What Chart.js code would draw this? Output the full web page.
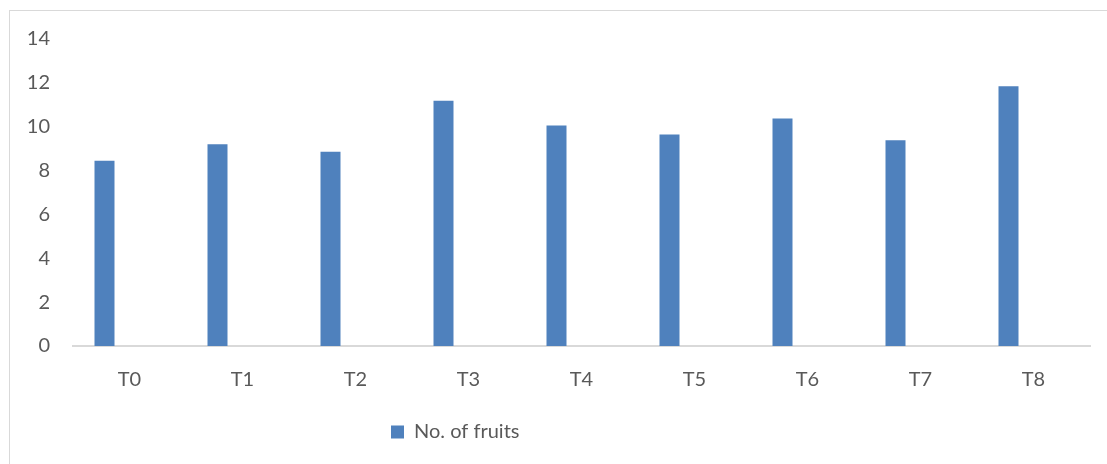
<!DOCTYPE html>
<html>
<head>
<meta charset="utf-8">
<script src="https://cdn.jsdelivr.net/npm/chart.js"></script>
<style>
    html, body { margin: 0; padding: 0; background: #fff; overflow: hidden; }
    #frame {
        position: absolute; left: 9px; top: 10px;
        width: 1200px; height: 600px;
        border: 1px solid #d9d9d9;
    }
    #wrap { position: absolute; left: 0; top: 0; width: 1107px; height: 464px; }
</style>
</head>
<body>
<div id="frame"></div>
<div id="wrap"><canvas id="chart"></canvas></div>
<script>
// Data
const treatments = ['T0', 'T1', 'T2', 'T3', 'T4', 'T5', 'T6', 'T7', 'T8'];
const fruitCounts = [8.45, 9.2, 8.86, 11.18, 10.05, 9.65, 10.38, 9.38, 11.85];
const emptySeries = [null, null, null, null, null, null, null, null, null];
const yTicks = [0, 2, 4, 6, 8, 10, 12, 14];

const textColor = '#595959';
const axisColor = '#d9d9d9';
const fontFamily = 'Lato, "Open Sans", sans-serif';
const fontSize = 20;

// shift the legend so it starts where Excel put it
const legendX = 391;
const legendShift = {
    id: 'legendShift',
    afterLayout(chart) {
        const lg = chart.legend;
        if (!lg || !lg.lineWidths) return;
        const pad = lg.options.labels.padding;
        const w = lg.right - lg.left;
        const left = (2 * legendX - w - pad + lg.lineWidths[0]) / 2;
        lg.left = left;
        lg.right = left + w;
    }
};

const ctx = document.getElementById('chart').getContext('2d');
const chart = new Chart(ctx, {
    type: 'bar',
    data: {
        labels: treatments,
        datasets: [{
            label: 'No. of fruits',
            data: fruitCounts,
            backgroundColor: '#4f81bd',
            categoryPercentage: 0.885,
            barPercentage: 0.4
        }, {
            label: '',
            data: emptySeries,
            backgroundColor: 'transparent',
            categoryPercentage: 0.885,
            barPercentage: 0.4
        }]
    },
    options: {
        responsive: true,
        maintainAspectRatio: false,
        animation: false,
        layout: { padding: { left: 10, right: 17, top: 39, bottom: 12 } },
        scales: {
            x: {
                grid: { display: false, drawTicks: false },
                border: { display: true, color: axisColor, width: 2 },
                ticks: { color: textColor, font: { family: fontFamily, size: fontSize }, padding: 22 },
                afterFit(scale) { scale.height = 66; }
            },
            y: {
                min: 0,
                max: 14,
                afterBuildTicks(scale) { scale.ticks = yTicks.map(v => ({ value: v })); },
                grid: { display: false, drawTicks: false },
                border: { display: false },
                ticks: { color: textColor, font: { family: fontFamily, size: fontSize }, padding: 23 },
                afterFit(scale) { scale.width = 63; }
            }
        },
        plugins: {
            legend: {
                position: 'bottom',
                labels: {
                    color: textColor,
                    font: { family: fontFamily, size: fontSize },
                    boxWidth: 13,
                    boxHeight: 13,
                    padding: 10,
                    filter: item => item.text !== ''
                }
            },
            tooltip: { enabled: false }
        }
    },
    plugins: [legendShift]
});
</script>
</body>
</html>
